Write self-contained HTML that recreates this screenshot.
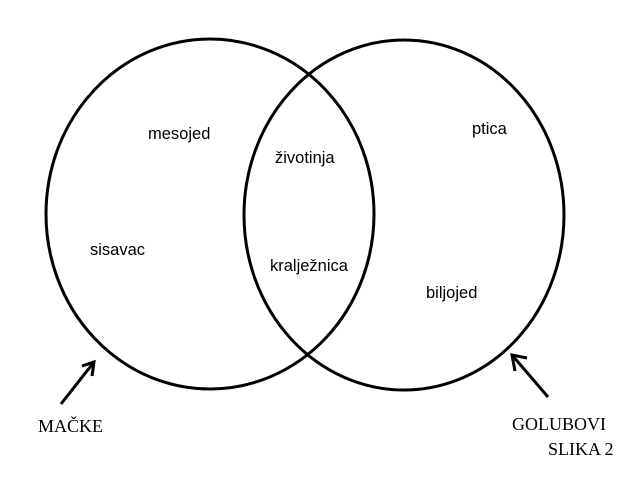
<!DOCTYPE html>
<html><head><meta charset="utf-8"><style>
html,body{margin:0;padding:0;background:#fff;}
svg{display:block}
.s{font-family:"Liberation Sans",sans-serif;font-size:16.5px;fill:#000}
.r{font-family:"Liberation Serif",serif;font-size:18px;fill:#000}
</style></head><body>
<svg width="636" height="478" viewBox="0 0 636 478">
<g fill="none" stroke="#000" stroke-width="3">
<ellipse cx="210" cy="214" rx="164" ry="175"/>
<ellipse cx="404" cy="215" rx="160" ry="175"/>
<path d="M61 404 L94 362 M82 366 L94 362 L92 376"/>
<path d="M548 397 L512 355 M527 358 L512 355 L515 371"/>
</g>
<text class="s" x="148" y="139">mesojed</text>
<text class="s" x="90" y="255">sisavac</text>
<text class="s" x="275" y="163">životinja</text>
<text class="s" x="270" y="271">kralježnica</text>
<text class="s" x="472" y="134">ptica</text>
<text class="s" x="426" y="298">biljojed</text>
<text class="r" x="38" y="432">MAČKE</text>
<text class="r" x="512" y="430">GOLUBOVI</text>
<text class="r" x="548" y="455">SLIKA 2</text>
</svg>
</body></html>
